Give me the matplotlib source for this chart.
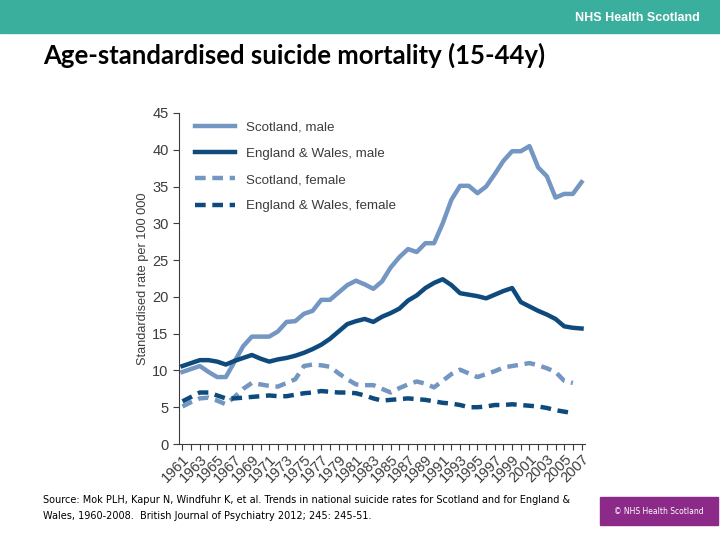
import numpy as np
import matplotlib
matplotlib.use("Agg")
import matplotlib.pyplot as plt
import matplotlib.patches as patches

years = list(range(1961, 2008))

scotland_male = [9.8, 10.2, 10.6, 9.8, 9.1, 9.1, 11.2, 13.3, 14.6, 14.6,
                 14.6, 15.3, 16.6, 16.7, 17.7, 18.1, 19.6, 19.6, 20.6, 21.6,
                 22.2, 21.7, 21.1, 22.1, 24.0, 25.4, 26.5, 26.1, 27.3, 27.3,
                 30.0, 33.2, 35.1, 35.1, 34.1, 35.0, 36.7, 38.5, 39.8, 39.8,
                 40.5, 37.6, 36.4, 33.5, 34.0, 34.0, 35.6]
ew_male = [10.6, 11.0, 11.4, 11.4, 11.2, 10.8, 11.3, 11.7, 12.1, 11.6,
           11.2, 11.5, 11.7, 12.0, 12.4, 12.9, 13.5, 14.3, 15.3, 16.3,
           16.7, 17.0, 16.6, 17.3, 17.8, 18.4, 19.5, 20.2, 21.2, 21.9,
           22.4, 21.6, 20.5, 20.3, 20.1, 19.8, 20.3, 20.8, 21.2, 19.3,
           18.7, 18.1, 17.6, 17.0, 16.0, 15.8, 15.7]
scotland_female = [5.1, 5.7, 6.2, 6.3, 5.9, 5.4, 6.4, 7.5, 8.3, 8.1,
                   7.9, 7.8, 8.3, 8.8, 10.6, 10.8, 10.7, 10.5, 9.6, 8.8,
                   8.1, 8.0, 8.0, 7.5, 7.0, 7.6, 8.1, 8.5, 8.2, 7.7,
                   8.6, 9.5, 10.1, 9.6, 9.1, 9.5, 9.9, 10.4, 10.6, 10.8,
                   11.0, 10.7, 10.3, 9.8, 8.6, 8.3, np.nan]
ew_female = [5.8, 6.4, 7.0, 7.0, 6.6, 6.2, 6.2, 6.3, 6.4, 6.5,
             6.6, 6.5, 6.5, 6.7, 6.9, 7.0, 7.2, 7.1, 7.0, 7.0,
             6.9, 6.6, 6.2, 5.9, 6.0, 6.1, 6.2, 6.1, 6.0, 5.8,
             5.6, 5.5, 5.3, 5.0, 5.0, 5.1, 5.3, 5.3, 5.4, 5.3,
             5.2, 5.1, 4.9, 4.6, 4.4, 4.2, np.nan]

labels = ["Scotland, male", "England & Wales, male",
          "Scotland, female", "England & Wales, female"]

light = "#7496c2"
dark = "#0f4a7d"
grey = "#3c3c3c"

fig = plt.figure(figsize=(7.2, 5.4), dpi=100)

# header band
fig.patches.append(patches.Rectangle((0, 1 - 33 / 540), 1, 33 / 540,
                                     transform=fig.transFigure,
                                     color="#3aaf9d", zorder=0))
fig.text(700 / 720, 1 - 18 / 540, "NHS Health Scotland", color="white",
         fontsize=9, fontweight="bold", family="Liberation Sans",
         ha="right", va="center")

fig.text(43 / 720, 1 - 55 / 540, "Age-standardised suicide mortality (15-44y)",
         fontsize=18.5, fontweight="bold", family="Lato", ha="left", va="center")

ax = fig.add_axes([179 / 720, 1 - 444 / 540, 406 / 720, 331 / 540])
lw = 3.2
ax.plot(years, scotland_male, color=light, lw=lw, label=labels[0])
ax.plot(years, ew_male, color=dark, lw=lw, label=labels[1])
ax.plot(years, scotland_female, color=light, lw=lw, ls=(0, (2.4, 1.5)),
        label=labels[2])
ax.plot(years, ew_female, color=dark, lw=lw, ls=(0, (2.4, 1.5)),
        label=labels[3])

ax.set_xlim(1960.6, 2007.4)
ax.set_ylim(0, 45)
ax.set_yticks(range(0, 50, 5))
ax.set_yticklabels([str(v) for v in range(0, 50, 5)], family="Liberation Sans")
ax.set_xticks(years, minor=True)
ax.set_xticks(years[::2])
ax.set_xticklabels([str(y) for y in years[::2]], rotation=45,
                   ha="right", rotation_mode="anchor", family="Liberation Sans")
ax.tick_params(axis="both", labelsize=10.5, colors=grey, length=4,
               width=0.8)
ax.tick_params(axis="x", which="minor", length=4, width=0.8, colors=grey)
ax.tick_params(axis="x", pad=2)
for s in ["top", "right"]:
    ax.spines[s].set_visible(False)
for s in ["left", "bottom"]:
    ax.spines[s].set_color(grey)
    ax.spines[s].set_linewidth(0.8)
ax.set_ylabel("Standardised rate per 100 000", fontsize=9.2, color=grey,
              family="Liberation Sans", labelpad=2)

ax.legend(loc="upper left", frameon=False, handlelength=3.0,
          labelspacing=1.05, handletextpad=0.8, borderaxespad=0.2,
          bbox_to_anchor=(0.02, 1.0), labelcolor=grey,
          prop={"family": "Liberation Sans", "size": 9.6})

fig.text(43 / 720, 1 - 500 / 540,
         "Source: Mok PLH, Kapur N, Windfuhr K, et al. Trends in national suicide rates for Scotland and for England &",
         fontsize=7.0, ha="left", va="center")
fig.text(43 / 720, 1 - 516 / 540,
         "Wales, 1960-2008.  British Journal of Psychiatry 2012; 245: 245-51.",
         fontsize=7.0, ha="left", va="center")

fig.patches.append(patches.Rectangle((600 / 720, 1 - 525 / 540), 118 / 720, 28 / 540,
                                     transform=fig.transFigure,
                                     color="#8c2a8a", zorder=0))
fig.text(659 / 720, 1 - 512 / 540, "\u00a9 NHS Health Scotland", color="white",
         fontsize=5.5, ha="center", va="center")

fig.savefig("out.png", dpi=100)
